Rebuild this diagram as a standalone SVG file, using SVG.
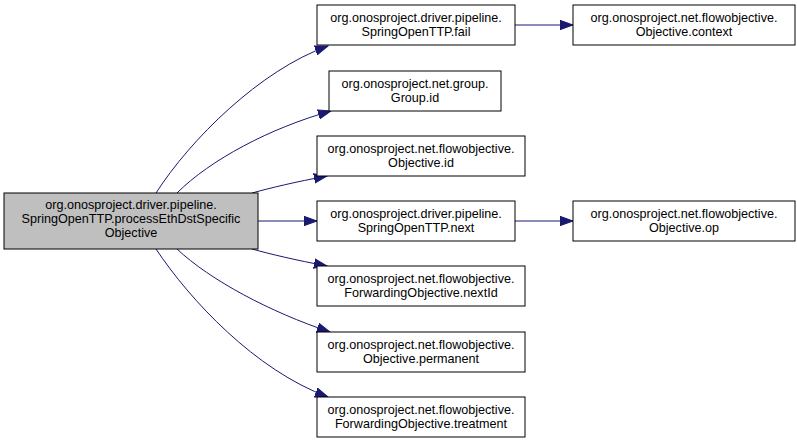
<svg xmlns="http://www.w3.org/2000/svg" width="797" height="443" viewBox="0 0 797 443">
<style>
.box{fill:#ffffff;stroke:#000000;stroke-width:1}
.main{fill:#bfbfbf;stroke:#000000;stroke-width:1}
text{font-family:"Liberation Sans",Arial,Helvetica,sans-serif;font-size:12.6px;fill:#000000;text-anchor:middle}
.edge{fill:none;stroke:#191970;stroke-width:1;marker-end:url(#arr)}
</style>
<defs>
<marker id="arr" markerUnits="userSpaceOnUse" markerWidth="14" markerHeight="11" refX="13" refY="5" orient="auto" viewBox="0 0 14 10">
<path d="M0,0.3 L13,5 L0,9.7 z" fill="#191970" stroke="#191970" stroke-width="1"/>
</marker>
</defs>
<rect width="797" height="443" fill="#ffffff"/>
<g id="connectors">
<path class="edge" d="M156,193 C190,140 260,70 328,46"/>
<path class="edge" d="M177,193 C210,160 270,128 331,111"/>
<path class="edge" d="M252,193 C270,188 295,182 327,176"/>
<path class="edge" d="M258,221 L317,221"/>
<path class="edge" d="M252,249 C270,254 295,260 327,266"/>
<path class="edge" d="M177,249 C210,280 270,312 330,332"/>
<path class="edge" d="M156,249 C190,300 255,370 328,397"/>
<path class="edge" d="M515,25 L573,25"/>
<path class="edge" d="M515,221 L573,221"/>
</g>
<g id="node-main">
<rect class="main" x="4" y="193" width="254" height="56"/>
<text x="131" y="209">org.onosproject.driver.pipeline.</text>
<text x="131" y="223">SpringOpenTTP.processEthDstSpecific</text>
<text x="131" y="237">Objective</text>
</g>
<g id="node-fail">
<rect class="box" x="317" y="5" width="198" height="40"/>
<text x="416" y="21.5">org.onosproject.driver.pipeline.</text>
<text x="416" y="35.5">SpringOpenTTP.fail</text>
</g>
<g id="node-context">
<rect class="box" x="573" y="5" width="222" height="40"/>
<text x="684" y="21.5">org.onosproject.net.flowobjective.</text>
<text x="684" y="35.5">Objective.context</text>
</g>
<g id="node-groupid">
<rect class="box" x="329" y="71" width="172" height="40"/>
<text x="415" y="87.5">org.onosproject.net.group.</text>
<text x="415" y="101.5">Group.id</text>
</g>
<g id="node-objid">
<rect class="box" x="317" y="136" width="208" height="40"/>
<text x="421" y="152.5">org.onosproject.net.flowobjective.</text>
<text x="421" y="166.5">Objective.id</text>
</g>
<g id="node-next">
<rect class="box" x="317" y="201" width="198" height="40"/>
<text x="416" y="217.5">org.onosproject.driver.pipeline.</text>
<text x="416" y="231.5">SpringOpenTTP.next</text>
</g>
<g id="node-op">
<rect class="box" x="573" y="201" width="222" height="40"/>
<text x="684" y="217.5">org.onosproject.net.flowobjective.</text>
<text x="684" y="231.5">Objective.op</text>
</g>
<g id="node-nextid">
<rect class="box" x="317" y="266" width="208" height="40"/>
<text x="421" y="282.5">org.onosproject.net.flowobjective.</text>
<text x="421" y="296.5">ForwardingObjective.nextId</text>
</g>
<g id="node-permanent">
<rect class="box" x="317" y="332" width="208" height="40"/>
<text x="421" y="348.5">org.onosproject.net.flowobjective.</text>
<text x="421" y="362.5">Objective.permanent</text>
</g>
<g id="node-treatment">
<rect class="box" x="317" y="397" width="208" height="40"/>
<text x="421" y="413.5">org.onosproject.net.flowobjective.</text>
<text x="421" y="427.5">ForwardingObjective.treatment</text>
</g>
</svg>
